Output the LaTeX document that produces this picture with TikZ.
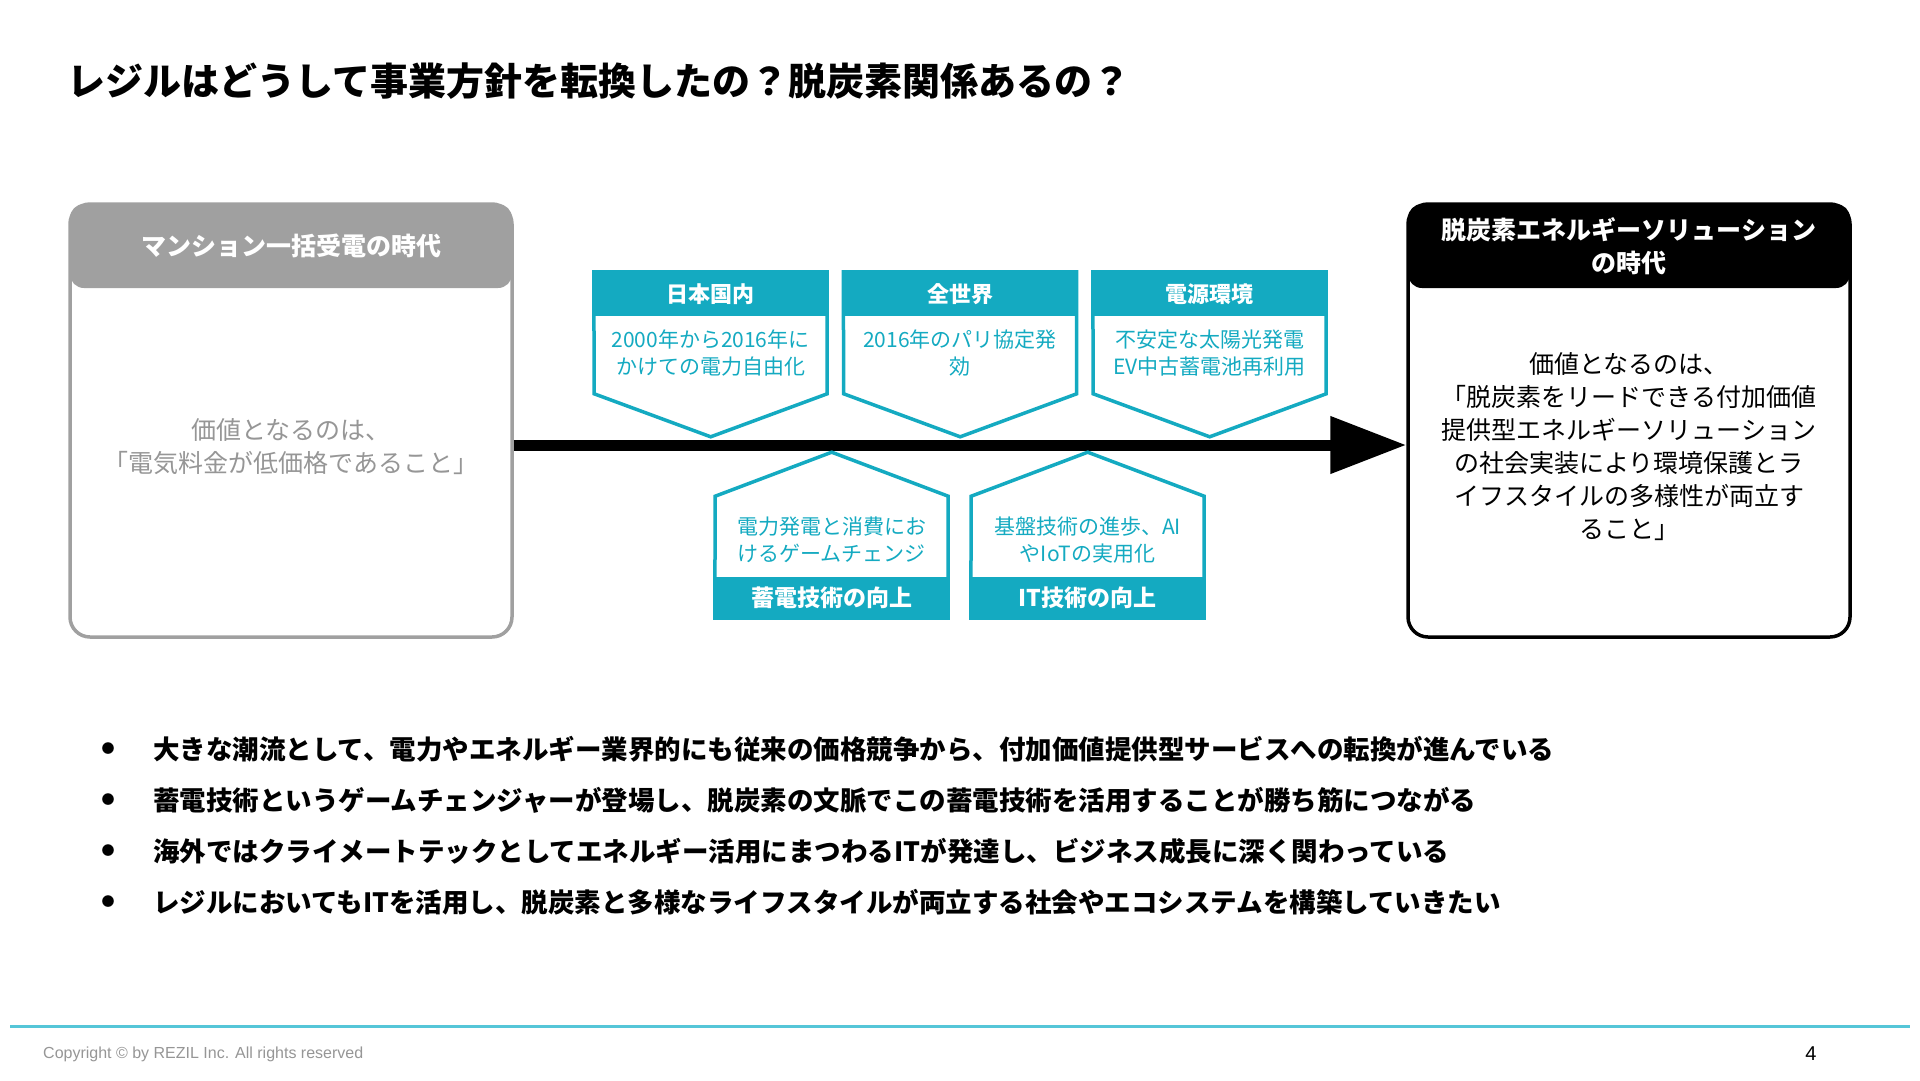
\documentclass[tikz,border=0pt]{standalone}
\usepackage{fontspec}
\setmainfont{Noto Sans CJK JP}
\newfontfamily\footfont{Liberation Sans}
\usepackage{xcolor}
\usetikzlibrary{arrows.meta, positioning, calc}
\definecolor{rezilteal}{RGB}{20,170,193}
\definecolor{footteal}{RGB}{85,198,216}
\definecolor{oldgray}{RGB}{160,160,160}
\definecolor{oldtext}{RGB}{150,150,150}
\tikzstyle{erabox} = [rectangle, rounded corners=20pt, minimum width=442pt, minimum height=433pt, line width=3.5pt, fill=white, inner sep=0pt]
\tikzstyle{erahead} = [rectangle, rounded corners=14pt, minimum width=442pt, minimum height=84pt, inner sep=0pt, align=center, text=white, font=\fontsize{25}{33}\selectfont\bfseries]
\tikzstyle{erabody} = [align=center, inner sep=0pt, font=\fontsize{25}{33}\selectfont]
\tikzstyle{factorhead} = [rectangle, minimum width=233pt, minimum height=44pt, inner sep=0pt, fill=rezilteal, text=white, font=\fontsize{22}{26}\selectfont\bfseries]
\tikzstyle{factorband} = [factorhead, minimum height=41pt, font=\fontsize{23}{26}\selectfont\bfseries]
\tikzstyle{factortext} = [align=center, inner sep=0pt, text=rezilteal, font=\fontsize{21}{27}\selectfont]
\tikzstyle{factorline} = [draw=rezilteal, line width=3.5pt, line join=miter]
\tikzstyle{timeline} = [line width=11pt, -{Triangle[length=76pt, width=55pt]}]
\tikzstyle{pointdot} = [inner sep=0pt, font=\fontsize{13}{13}\selectfont]
\tikzstyle{pointtext} = [anchor=west, inner sep=0pt, font=\fontsize{26.5}{30}\selectfont\bfseries]

\begin{document}
\begin{tikzpicture}[x=1pt, y=-1pt]
\fill[white] (0,0) rectangle (1920,1080);
\useasboundingbox (0,0) rectangle (1920,1080);

% Title
\node (title) [anchor=west, inner sep=0pt, font=\fontsize{38}{40}\selectfont\bfseries] at (67,81) {レジルはどうして事業方針を転換したの？脱炭素関係あるの？};

% Era boxes
\node (old) [erabox, draw=oldgray] at (291,420.5) {};
\node (oldhead) [erahead, fill=oldgray] at (291,246) {マンション一括受電の時代};
\node (oldbody) [erabody, text=oldtext] at (291,447) {価値となるのは、\\「電気料金が低価格であること」};

\node (new) [erabox, draw=black] at (1629,420.5) {};
\node (newhead) [erahead, fill=black] at (1629,246) {脱炭素エネルギーソリューション\\の時代};
\node (newbody) [erabody] at (1629,447) {価値となるのは、\\「脱炭素をリードできる付加価値\\提供型エネルギーソリューション\\の社会実装により環境保護とラ\\イフスタイルの多様性が両立す\\ること」};

% Timeline arrow
\coordinate (axis) at (0,445);
\draw [timeline] (old.east |- axis) -- (new.west |- axis);

% Factors above the timeline
\node (japan) [factorhead] at (710.5,294) {日本国内};
\draw [factorline] (japan.north west) -- (japan.north east) -- ++(0,122) -- ++(-116.5,43) -- ++(-116.5,-43) -- cycle;
\node (japantext) [factortext] at (710.5,353) {2000年から2016年に\\かけての電力自由化};

\node (world) [factorhead] at (960,294) {全世界};
\draw [factorline] (world.north west) -- (world.north east) -- ++(0,122) -- ++(-116.5,43) -- ++(-116.5,-43) -- cycle;
\node (worldtext) [factortext] at (960,353) {2016年のパリ協定発\\効};

\node (power) [factorhead] at (1209.5,294) {電源環境};
\draw [factorline] (power.north west) -- (power.north east) -- ++(0,122) -- ++(-116.5,43) -- ++(-116.5,-43) -- cycle;
\node (powertext) [factortext] at (1209.5,353) {不安定な太陽光発電\\EV中古蓄電池再利用};

% Factors below the timeline
\node (storage) [factorband] at (831.5,597.5) {蓄電技術の向上};
\draw [factorline] (storage.south west) -- (storage.south east) -- ++(0,-122) -- ++(-116.5,-44) -- ++(-116.5,44) -- cycle;
\node (storagetext) [factortext] at (831.5,540) {電力発電と消費にお\\けるゲームチェンジ};

\node (it) [factorband] at (1087.5,597.5) {IT技術の向上};
\draw [factorline] (it.south west) -- (it.south east) -- ++(0,-122) -- ++(-116.5,-44) -- ++(-116.5,44) -- cycle;
\node (ittext) [factortext] at (1087.5,540) {基盤技術の進歩、AI\\やIoTの実用化};

% Key points
\node (dot1) [pointdot] at (108,749) {●};
\node (point1) [pointtext] at (153,749) {大きな潮流として、電力やエネルギー業界的にも従来の価格競争から、付加価値提供型サービスへの転換が進んでいる};
\node (dot2) [pointdot] at (108,800) {●};
\node (point2) [pointtext] at (153,800) {蓄電技術というゲームチェンジャーが登場し、脱炭素の文脈でこの蓄電技術を活用することが勝ち筋につながる};
\node (dot3) [pointdot] at (108,851) {●};
\node (point3) [pointtext] at (153,851) {海外ではクライメートテックとしてエネルギー活用にまつわるITが発達し、ビジネス成長に深く関わっている};
\node (dot4) [pointdot] at (108,902) {●};
\node (point4) [pointtext] at (153,902) {レジルにおいてもITを活用し、脱炭素と多様なライフスタイルが両立する社会やエコシステムを構築していきたい};

% Footer
\draw [footteal, line width=3pt] (10,1026) -- (1910,1026);
\node (copyright) [anchor=west, inner sep=0pt, text=oldtext, font=\footfont\fontsize{16}{18}\selectfont] at (43,1054) {Copyright © by REZIL Inc. All rights reserved};
\node (page) [inner sep=0pt, font=\footfont\fontsize{20}{22}\selectfont] at (1811,1054) {4};

\end{tikzpicture}
\end{document}
